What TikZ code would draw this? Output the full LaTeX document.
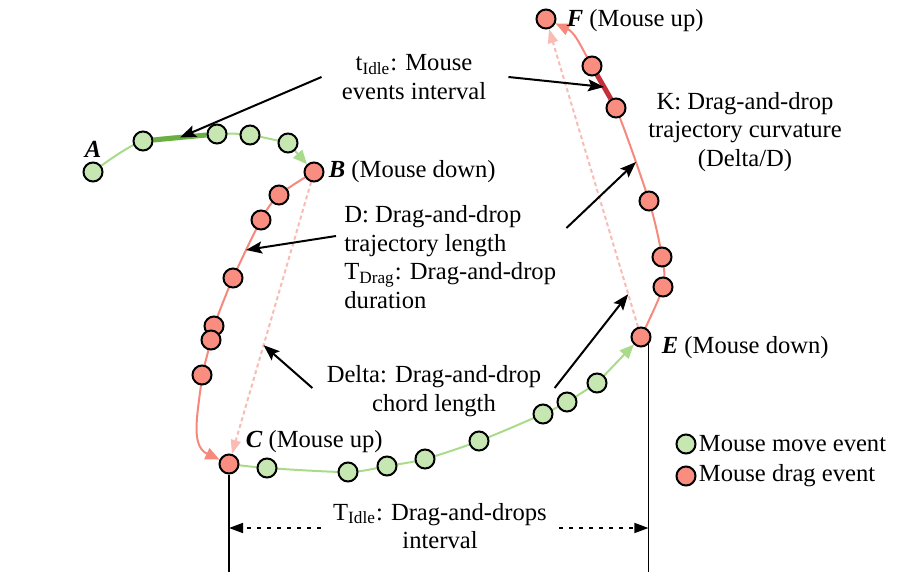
\documentclass[tikz,border=0pt]{standalone}
\usepackage{fontspec}
\setmainfont{Liberation Serif}
\usepackage{tikz}
\usetikzlibrary{positioning, arrows.meta, backgrounds}
\definecolor{movefill}{HTML}{C6E7B2}
\definecolor{dragfill}{HTML}{F98D80}
\definecolor{moveline}{HTML}{A9DB8A}
\definecolor{dragline}{HTML}{F58A7C}
\definecolor{chordpink}{HTML}{F9BBB3}
\definecolor{movedark}{HTML}{6BAF42}
\definecolor{dragdark}{HTML}{C4303A}
\newcommand{\figfont}{\fontsize{12.3}{14.3}\selectfont}
\tikzset{
  moveevt/.style={circle, draw=black, line width=1pt, fill=movefill, minimum size=9.5pt, inner sep=0pt},
  dragevt/.style={circle, draw=black, line width=1pt, fill=dragfill, minimum size=9.5pt, inner sep=0pt},
  movepath/.style={draw=moveline, line width=1pt, -{Triangle[length=7pt,width=6pt]}},
  dragpath/.style={draw=dragline, line width=1pt, -{Triangle[length=7pt,width=6pt]}},
  chord/.style={draw=chordpink, line width=1pt, dash pattern=on 2pt off 1.5pt, -{Triangle[length=7pt,width=5pt]}},
  note/.style={align=center, inner sep=2pt},
  evlabel/.style={inner sep=1pt},
  notearrow/.style={line width=1pt, -{Stealth[length=8pt,width=6pt,inset=1.5pt]}},
  dimline/.style={line width=0.8pt, dash pattern=on 2pt off 3pt, -{Triangle[length=7pt,width=5pt]}}
}
\begin{document}
\begin{tikzpicture}[x=0.5pt, y=-0.5pt, font=\figfont]
    \useasboundingbox (0,0) rectangle (914,572);

    % Mouse move events A -> B
    \node (A) [moveevt] at (93,172) {};
    \node (m1) [moveevt] at (143,141) {};
    \node (m2) [moveevt] at (217,134) {};
    \node (m3) [moveevt] at (250,135) {};
    \node (m4) [moveevt] at (288,143) {};

    % Drag B -> C
    \node (B) [dragevt] at (314,172) {};
    \node (d1) [dragevt] at (279,195) {};
    \node (d2) [dragevt] at (261,220) {};
    \node (d3) [dragevt] at (233,278) {};
    \node (d4) [dragevt] at (214,326) {};
    \node (d5) [dragevt] at (211,340) {};
    \node (d6) [dragevt] at (202,375) {};
    \node (C) [dragevt] at (229,464) {};

    % Mouse move events C -> E
    \node (n1) [moveevt] at (267,468) {};
    \node (n2) [moveevt] at (348,472) {};
    \node (n3) [moveevt] at (387,466) {};
    \node (n4) [moveevt] at (425,459) {};
    \node (n5) [moveevt] at (479,441) {};
    \node (n6) [moveevt] at (543,414) {};
    \node (n7) [moveevt] at (567,402) {};
    \node (n8) [moveevt] at (597,383) {};

    % Drag E -> F
    \node (E) [dragevt] at (641,337) {};
    \node (f1) [dragevt] at (663,287) {};
    \node (f2) [dragevt] at (662,257) {};
    \node (f3) [dragevt] at (649,201) {};
    \node (f4) [dragevt] at (616,108) {};
    \node (f5) [dragevt] at (592,66) {};
    \node (F) [dragevt] at (546,19) {};

    % Event labels
    \node (labA) [evlabel, above=1pt of A] {\textbf{\textit{A}}};
    \node (labB) [evlabel, right=1pt of B] {\textbf{\textit{B}} (Mouse down)};
    \node (labC) [evlabel, anchor=south west] at ([shift={(3.5pt,0.5pt)}]C.north east) {\textbf{\textit{C}} (Mouse up)};
    \node (labE) [evlabel, right=4pt of E, yshift=-5.5pt] {\textbf{\textit{E}} (Mouse down)};
    \node (labF) [evlabel, right=4pt of F, yshift=-1pt] {\textbf{\textit{F}} (Mouse up)};

    % Notes
    \node (tidle) [note] at (414,77) {t\textsubscript{Idle}: Mouse\\events interval};
    \node (curv) [note] at (745,132) {K: Drag-and-drop\\trajectory curvature\\(Delta/D)};
    \node (dlen) [note, align=left, anchor=west] at (340,257) {D: Drag-and-drop\\trajectory length\\T\textsubscript{Drag}: Drag-and-drop\\duration};
    \node (delta) [note] at (434,391) {Delta: Drag-and-drop\\chord length};
    \node (tbig) [note] at (440,526) {T\textsubscript{Idle}: Drag-and-drops\\interval};

    % Legend
    \node (legm) [moveevt] at (686,444) {};
    \node (legmt) [evlabel, right=0pt of legm] {Mouse move event};
    \node (legd) [dragevt] at (686,476) {};
    \node (legdt) [evlabel, right=0pt of legd] {Mouse drag event};

    % Trajectories (behind the events)
    \begin{scope}[on background layer]
        \draw [movepath] plot[smooth] coordinates {(A.center) (m1.center) (m2.center) (m3.center) (m4.center)} -- (B);
        \draw [dragpath] plot[smooth] coordinates {(B.center) (d1.center) (d2.center) (d3.center) (d4.center) (d5.center) (d6.center)} to[out=-95, in=155] (C);
        \draw [movepath] plot[smooth] coordinates {(C.center) (n1.center) (n2.center) (n3.center) (n4.center) (n5.center) (n6.center) (n7.center) (n8.center)} -- (E);
        \draw [dragpath] plot[smooth] coordinates {(E.center) (f1.center) (f2.center) (f3.center) (f4.center) (f5.center)} to[out=120, in=-25] (F);
        \draw [movedark, line width=2.5pt] (m1) -- (m2);
        \draw [dragdark, line width=2.5pt] (f4) -- (f5);
        % Chords
        \draw [chord] (B) -- (C);
        \draw [chord] (E) -- (F);
        % Drag-and-drop interval
        \coordinate (bottom) at (0,572);
        \draw [line width=0.8pt] (C.south) -- (C |- bottom);
        \draw [line width=0.8pt] (E.south east) -- (E.south east |- bottom);
    \end{scope}

    % Targets of the notes
    \path (m1) -- (m2) coordinate[midway] (tipmove);
    \path (f4) -- (f5) coordinate[midway] (tipdrag);
    \coordinate (tiplen) at (246,250);
    \coordinate (tipcurv) at (636,162);
    \path (B) -- (C) coordinate[pos=0.6] (tipchordB);
    \path (E) -- (F) coordinate[pos=0.11] (tipchordE);

    % Note arrows
    \draw [notearrow] ([xshift=-8pt]tidle.west) -- (tipmove);
    \draw [notearrow] ([xshift=9pt]tidle.east) -- (tipdrag);
    \draw [notearrow] ([shift={(-2pt,10.5pt)}]dlen.west) -- (tiplen);
    \draw [notearrow] ([shift={(3pt,14.5pt)}]dlen.east) -- (tipcurv);
    \draw [notearrow] ([shift={(-5pt,1.5pt)}]delta.west) -- (tipchordB);
    \draw [notearrow] ([shift={(4.5pt,1.5pt)}]delta.east) -- (tipchordE);

    \coordinate (dimL) at ([shift={(-4pt,-1pt)}]tbig.west);
    \coordinate (dimR) at ([shift={(4pt,-1pt)}]tbig.east);
    \draw [dimline] (dimL) -- (dimL -| C);
    \draw [dimline] (dimR) -- (dimR -| E.south east);

\end{tikzpicture}
\end{document}
